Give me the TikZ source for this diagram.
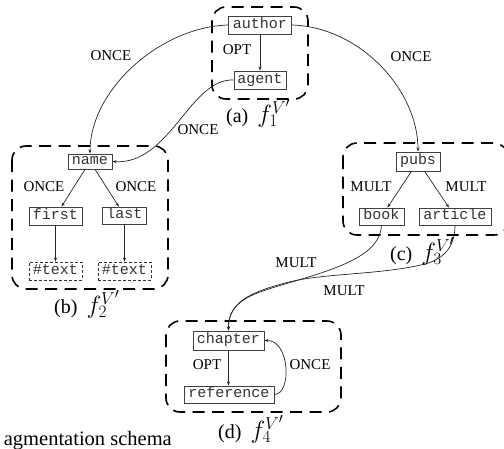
\documentclass[tikz,border=0pt]{standalone}
\usepackage{fontspec}
\setmainfont{Liberation Serif}
\setmonofont{Liberation Mono}
\usetikzlibrary{arrows.meta}
\DeclareMathSizes{20}{24}{18}{14}
\newcommand{\fragsym}[1]{$f^{\raisebox{-2.5pt}{$\scriptstyle V'$}}_{#1}$}
\tikzset{
 x=1pt,y=-1pt,
 box/.style={draw=black!75,line width=0.9pt,fill=white,inner sep=0pt,text=black!80,font=\ttfamily\fontsize{15}{15}\selectfont,anchor=center,text height=8pt,text depth=2pt},
 dbox/.style={box,dash pattern=on 3pt off 2pt,draw=black!80},
 frag/.style={draw=black,line width=1.6pt,rounded corners=14pt,dash pattern=on 12pt off 7.5pt},
 lbl/.style={font=\fontsize{15}{15}\selectfont,inner sep=0pt},
 capt/.style={font=\fontsize{20}{20}\selectfont,inner sep=0pt},
 conn/.style={draw=black!85,line width=0.7pt,-{Stealth[length=4pt,width=3pt]}},
}
\begin{document}
\begin{tikzpicture}
\useasboundingbox (0,0) rectangle (504,448);
\draw[frag] (212,7) rectangle (308,99);
\draw[frag] (12,146) rectangle (168,289);
\begin{scope}
\clip (0,0) rectangle (504,448);
\draw[frag] (343,143) rectangle (508,235);
\end{scope}
\draw[frag] (166,321) rectangle (341,412);
\node[box,minimum width=63pt,minimum height=18pt] (author) at (260,25) {author};
\node[box,minimum width=52pt,minimum height=18pt] (agent) at (260,80) {agent};
\node[box,minimum width=44pt,minimum height=15pt] (name) at (90,161.5) {name};
\node[box,minimum width=53pt,minimum height=18pt] (first) at (55.5,216) {first};
\node[box,minimum width=44pt,minimum height=17pt] (last) at (124.5,215.5) {last};
\node[dbox,minimum width=53pt,minimum height=18pt] (t1) at (55.5,271) {\#text};
\node[dbox,minimum width=53pt,minimum height=18pt] (t2) at (124.5,271) {\#text};
\node[box,minimum width=44pt,minimum height=19pt] (pubs) at (418,161.5) {pubs};
\node[box,minimum width=45pt,minimum height=17pt] (book) at (381.5,216.5) {book};
\node[box,minimum width=72pt,minimum height=17pt] (article) at (455,216.5) {article};
\node[box,minimum width=71pt,minimum height=19pt] (chapter) at (228.5,340.5) {chapter};
\node[box,minimum width=90pt,minimum height=17pt] (reference) at (229,394.5) {reference};
\draw[conn] (author) -- (agent);
\draw[conn] (name) -- (first);
\draw[conn] (name) -- (last);
\draw[conn] (first) -- (t1);
\draw[conn] (last) -- (t2);
\draw[conn] (pubs) -- (book);
\draw[conn] (pubs) -- (article);
\draw[conn] (chapter) -- (reference.north -| chapter);
\draw[conn] (author.west) .. controls (160,27) and (90,90) .. (name.north);
\draw[conn] (author.east) .. controls (360,27) and (418,90) .. (pubs.north);
\draw[conn] (agent.west) .. controls (190,78) and (170,165) .. (name.east);
\draw[conn] (book.south) .. controls (380,255) and (340,268) .. (285,284) .. controls (255,293) and (228,300) .. (chapter.north);
\draw[conn] (article.south) .. controls (455,250) and (440,260) .. (425,264) .. controls (380,275) and (325,273) .. (289,282) .. controls (255,291) and (228,300) .. (chapter.north);
\draw[conn] (reference.east) .. controls (292,394) and (290,340) .. (chapter.east);
\node[lbl] (l1) at (111,56) {ONCE};
\node[lbl] (l2) at (411,57) {ONCE};
\node[lbl] (l3) at (198,130) {ONCE};
\node[lbl] (l4) at (237,50) {OPT};
\node[lbl] (l5) at (44,187) {ONCE};
\node[lbl] (l6) at (136,187) {ONCE};
\node[lbl] (l7) at (371,187) {MULT};
\node[lbl] (l8) at (466,187) {MULT};
\node[lbl] (l9) at (296,263) {MULT};
\node[lbl] (l10) at (344,291) {MULT};
\node[lbl] (l11) at (207,365) {OPT};
\node[lbl] (l12) at (310,365) {ONCE};
\node[capt,anchor=base west] (ca) at (226,122) {(a)\hspace{0.45em}\fragsym{1}};
\node[capt,anchor=base west] (cb) at (54,313) {(b)\hspace{0.45em}\fragsym{2}};
\node[capt,anchor=base west] (cc) at (390,260) {(c)\hspace{0.45em}\fragsym{3}};
\node[capt,anchor=base west] (cd) at (218,438) {(d)\hspace{0.45em}\fragsym{4}};
\node[capt,anchor=base east,font=\fontsize{20.5}{20}\selectfont] (cap0) at (172,445) {agmentation schema};
\end{tikzpicture}
\end{document}
